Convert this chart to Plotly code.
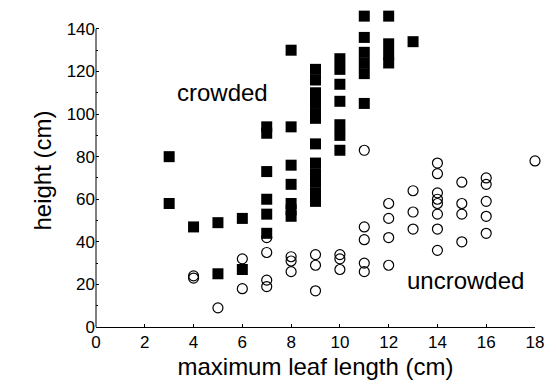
import plotly.graph_objects as go

# Crowded plants (filled squares)
crowded_x = [3, 3, 4, 5, 5, 6, 6,
             7, 7, 7, 7, 7, 7,
             8, 8, 8, 8, 8, 8, 8,
             9, 9, 9, 9, 9, 9, 9, 9, 9, 9, 9, 9,
             10, 10, 10, 10, 10, 10, 10,
             11, 11, 11, 11, 11, 11,
             12, 12, 12, 12,
             13]
crowded_y = [80, 58, 47, 49, 25, 51, 27,
             94, 91, 73, 60, 53, 44,
             130, 94, 76, 67, 58, 55, 52,
             121, 116, 110, 105, 100, 98, 86, 77, 72, 68, 63, 59,
             126, 121, 114, 106, 95, 90, 83,
             146, 136, 129, 124, 119, 105,
             146, 133, 128, 124,
             134]

# Uncrowded plants (open circles)
uncrowded_x = [4, 4, 5, 6, 6,
               7, 7, 7, 7,
               8, 8, 8,
               9, 9, 9,
               10, 10, 10,
               11, 11, 11, 11, 11,
               12, 12, 12, 12,
               13, 13, 13,
               14, 14, 14, 14, 14, 14, 14, 14,
               15, 15, 15, 15,
               16, 16, 16, 16, 16,
               18]
uncrowded_y = [24, 23, 9, 32, 18,
               42, 35, 22, 19,
               33, 31, 26,
               34, 29, 17,
               34, 32, 27,
               83, 47, 41, 30, 26,
               58, 51, 42, 29,
               64, 54, 46,
               77, 72, 63, 60, 58, 53, 46, 36,
               68, 58, 53, 40,
               70, 67, 59, 52, 44,
               78]

x_ticks = [0, 2, 4, 6, 8, 10, 12, 14, 16, 18]
y_ticks = [0, 20, 40, 60, 80, 100, 120, 140]
y_axis_top = 140

FONT = "Liberation Sans, Arial, Helvetica, sans-serif"

fig = go.Figure()
fig.add_trace(go.Scatter(
    x=uncrowded_x, y=uncrowded_y, mode="markers", cliponaxis=False,
    marker=dict(symbol="circle-open", size=10, color="black", line=dict(width=1.2)),
    showlegend=False, hoverinfo="skip"))
fig.add_trace(go.Scatter(
    x=crowded_x, y=crowded_y, mode="markers", cliponaxis=False,
    marker=dict(symbol="square", size=11, color="black", line=dict(width=0)),
    showlegend=False, hoverinfo="skip"))

fig.add_annotation(x=3.25, y=110, text="crowded", showarrow=False, xanchor="left",
                   yanchor="middle", font=dict(family=FONT, size=24, color="black"))
fig.add_annotation(x=12.65, y=22, text="uncrowded", showarrow=False, xanchor="left",
                   yanchor="middle", font=dict(family=FONT, size=24, color="black"))

# y axis line, drawn only up to the top tick
fig.add_shape(type="line", xref="paper", yref="y", x0=0, x1=0, y0=0, y1=y_axis_top,
              line=dict(color="black", width=1))

fig.update_layout(
    width=556, height=389,
    margin=dict(l=96, r=17, t=14, b=62),
    paper_bgcolor="white", plot_bgcolor="white",
    font=dict(family=FONT, color="black"),
    hovermode=False,
)
fig.update_xaxes(
    range=[0, 18], tickvals=x_ticks, ticktext=[str(v) for v in x_ticks],
    showline=True, linecolor="black", linewidth=1, showgrid=False, zeroline=False,
    ticks="inside", ticklen=3, tickcolor="black",
    tickfont=dict(family=FONT, size=17, color="black"),
    title=dict(text="maximum leaf length (cm)", font=dict(family=FONT, size=24, color="black"), standoff=6),
)
fig.update_yaxes(
    range=[0, 147], tickvals=y_ticks, ticktext=[str(v) for v in y_ticks],
    showline=False, showgrid=False, zeroline=False,
    ticks="inside", ticklen=3, tickcolor="black",
    minor=dict(tickvals=[10, 30, 50, 70, 90, 110, 130], ticks="inside", ticklen=2, tickcolor="black"),
    tickfont=dict(family=FONT, size=17, color="black"),
    title=dict(text="height (cm)", font=dict(family=FONT, size=24, color="black"), standoff=8),
)

fig.write_html("out.html", config={"displayModeBar": False},
               post_script="document.body.style.margin='0';")
